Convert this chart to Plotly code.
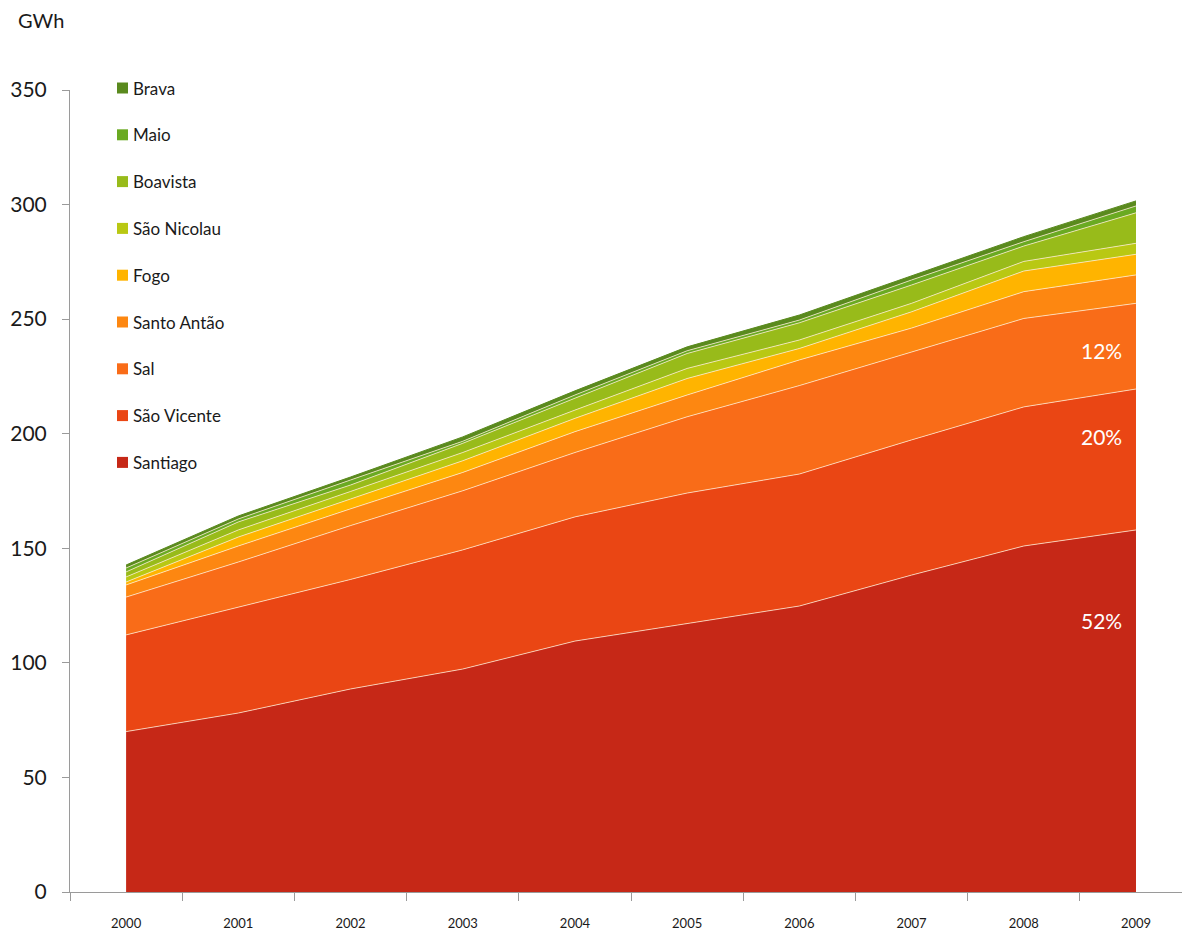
import plotly.graph_objects as go

# Annual electricity production by island (GWh), stacked from Santiago upward
years = ["2000", "2001", "2002", "2003", "2004", "2005", "2006", "2007", "2008", "2009"]

santiago = [70.0, 78.1, 88.6, 97.3, 109.5, 117.0, 124.8, 138.3, 151.0, 158.0]
sao_vicente = [42.2, 46.3, 47.8, 52.0, 54.2, 57.1, 57.6, 59.0, 60.7, 61.5]
sal = [16.5, 19.6, 23.5, 25.8, 28.1, 33.3, 38.6, 38.4, 38.6, 37.4]
santo_antao = [5.3, 7.0, 7.3, 8.0, 9.1, 9.5, 11.2, 10.4, 11.7, 12.4]
fogo = [1.3, 3.9, 4.3, 5.1, 5.8, 7.2, 5.0, 7.1, 9.0, 9.0]
sao_nicolau = [2.2, 3.1, 3.3, 3.6, 3.6, 4.4, 3.7, 3.7, 4.2, 4.8]
boavista = [2.2, 3.5, 2.8, 4.0, 5.2, 6.5, 7.5, 8.0, 6.7, 13.3]
maio = [1.7, 1.3, 2.2, 0.9, 1.4, 1.2, 1.2, 2.2, 1.9, 3.0]
brava = [1.3, 1.3, 1.3, 1.9, 1.8, 1.7, 2.2, 1.7, 2.2, 2.2]

series_names = ["Santiago", "São Vicente", "Sal", "Santo Antão", "Fogo",
                "São Nicolau", "Boavista", "Maio", "Brava"]
series_values = [santiago, sao_vicente, sal, santo_antao, fogo,
                 sao_nicolau, boavista, maio, brava]
series_colors = ["#c62817", "#ea4614", "#f96c18", "#fd8711", "#ffb400",
                 "#b9c813", "#98bb1a", "#6aaa22", "#5a8a1e"]

y_ticks = [0, 50, 100, 150, 200, 250, 300, 350]

FONT = "Lato, 'Open Sans', sans-serif"
TEXT = "#1a1a1a"

W, H = 1182, 933
ML, MR, MT, MB = 70, 0, 90, 41
PW, PH = W - ML - MR, H - MT - MB


def px_x(px):
    return (px - ML) / PW


def px_y(py):
    return (H - MB - py) / PH


fig = go.Figure()

for i, (name, vals, col) in enumerate(zip(series_names, series_values, series_colors)):
    top = i == len(series_names) - 1
    fig.add_trace(go.Scatter(
        x=years, y=vals, name=name, mode="lines",
        stackgroup="islands",
        fillcolor=col,
        line=dict(color=col if top else "rgba(255,236,214,0.75)", width=1),
        showlegend=False,
        hovertemplate="%{x}: %{y} GWh<extra>" + name + "</extra>",
    ))

# Share of the 2009 total for the three largest islands
last = len(years) - 1
total_2009 = sum(v[last] for v in series_values)
label_series = [(santiago, 118.7), (sao_vicente, 198.6), (sal, 236.5)]
annotations = []
for vals, ypos in label_series:
    share = round(vals[last] / total_2009 * 100)
    annotations.append(dict(
        x=last, y=ypos, xref="x", yref="y",
        text=f"{share}%", showarrow=False, xshift=-34,
        font=dict(family=FONT, size=21, color="white"),
    ))

# Legend, top entry first
legend_top, legend_step = 88, 46.8
shapes = []
for k, (name, col) in enumerate(zip(series_names[::-1], series_colors[::-1])):
    cy = legend_top + k * legend_step
    shapes.append(dict(
        type="rect", xref="paper", yref="paper",
        x0=px_x(117), x1=px_x(128), y0=px_y(cy + 5.5), y1=px_y(cy - 5.5),
        fillcolor=col, line=dict(width=0),
    ))
    annotations.append(dict(
        x=px_x(131), y=px_y(cy), xref="paper", yref="paper",
        text=name, showarrow=False, xanchor="left", yanchor="middle",
        font=dict(family=FONT, size=17, color=TEXT),
    ))

annotations.append(dict(
    x=px_x(16), y=px_y(20), xref="paper", yref="paper",
    text="GWh", showarrow=False, xanchor="left", yanchor="middle",
    font=dict(family=FONT, size=20, color=TEXT),
))

fig.update_layout(
    width=W, height=H,
    margin=dict(l=ML, r=MR, t=MT, b=MB),
    paper_bgcolor="white", plot_bgcolor="white",
    showlegend=False,
    annotations=annotations,
    shapes=shapes,
    xaxis=dict(
        type="category", range=[-0.5, 9.41],
        tickson="boundaries", ticks="outside", ticklen=8,
        tickcolor="#9a9a9a", showline=True, linecolor="#9a9a9a", linewidth=1,
        showgrid=False, zeroline=False, ticklabelstandoff=19,
        tickfont=dict(family=FONT, size=13, color=TEXT),
    ),
    yaxis=dict(
        range=[0, 350], tickvals=y_ticks, ticks="outside", ticklen=7,
        tickcolor="#9a9a9a", showline=True, linecolor="#9a9a9a", linewidth=1,
        showgrid=False, zeroline=False, ticklabelstandoff=11,
        tickfont=dict(family=FONT, size=21, color=TEXT),
    ),
)

fig.write_html("out.html")
